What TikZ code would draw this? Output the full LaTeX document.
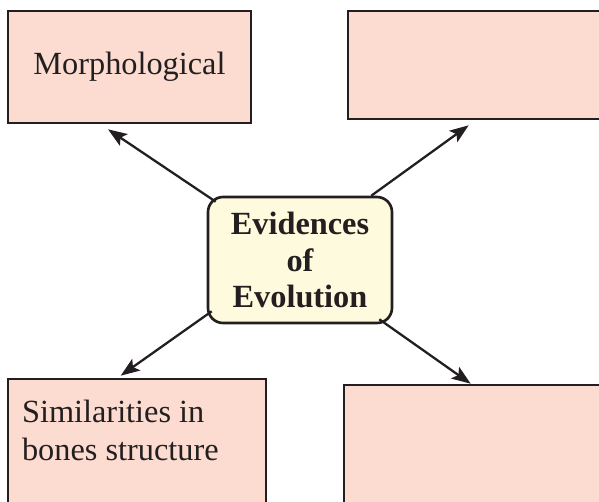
\documentclass[tikz,border=0pt]{standalone}
\usepackage{fontspec}
\setmainfont{Liberation Serif}
\usetikzlibrary{arrows.meta}

\definecolor{boxpink}{RGB}{252,220,208}
\definecolor{evoyellow}{RGB}{254,250,222}
\definecolor{inkgrey}{RGB}{35,31,32}

\begin{document}
\begin{tikzpicture}[x=0.02cm,y=-0.02cm,
    every node/.style={font=\fontsize{18.4}{21.6}\selectfont,text=inkgrey},
    evbox/.style={draw=inkgrey,line width=1.5pt,fill=boxpink,inner sep=0pt},
    evcentre/.style={draw=inkgrey,line width=1.5pt,fill=evoyellow,
      rounded corners=0.3cm,align=center,inner sep=0pt,
      font=\fontsize{18.4}{21}\selectfont\bfseries,
      minimum width=3.68cm,minimum height=2.52cm},
    evarrow/.style={draw=inkgrey,line width=1.3pt,
      -{Stealth[length=0.38cm,width=0.28cm,inset=0.08cm]}}
  ]
  \useasboundingbox (0,0) rectangle (599,501);
  \clip (0,0) rectangle (599,501);

  \node [evcentre] (evid) at (300,260) {Evidences\\of\\Evolution};

  \node [evbox,minimum width=4.86cm,minimum height=2.24cm] (morph)
    at (129.5,67) {Morphological};
  \node [evbox,minimum width=5.28cm,minimum height=2.16cm] (upperright)
    at (480,65) {};
  \node [evbox,minimum width=5.16cm,minimum height=2.84cm,
         label={[anchor=north west,align=left,inner sep=0pt,
                 xshift=0.3cm,yshift=-0.44cm]north west:Similarities in\\bones structure}]
    (bones) at (137,450) {};
  \node [evbox,minimum width=5.36cm,minimum height=2.8cm] (lowerright)
    at (478,455) {};

  \begin{scope}
    \draw [evarrow] ([xshift=0.18cm,yshift=-0.12cm]evid.north west)
      -- ([xshift=-0.43cm,yshift=-0.1cm]morph.south);
    \draw [evarrow] ([xshift=-0.44cm]evid.north east)
      -- ([xshift=2.44cm,yshift=-0.1cm]upperright.south west);
    \draw [evarrow] ([xshift=0.1cm,yshift=0.26cm]evid.south west)
      -- ([xshift=2.28cm,yshift=0.04cm]bones.north west);
    \draw [evarrow] ([xshift=-0.28cm,yshift=0.1cm]evid.south east)
      -- ([xshift=2.56cm]lowerright.north west);
  \end{scope}
\end{tikzpicture}
\end{document}
